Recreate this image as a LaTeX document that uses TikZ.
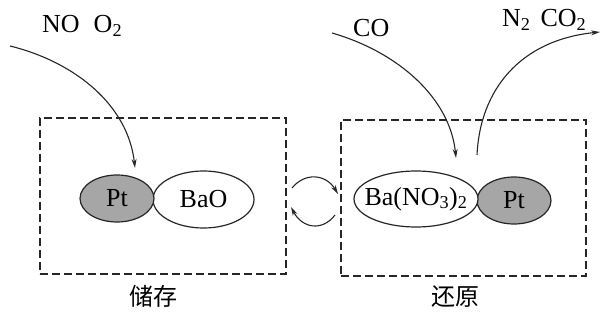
\documentclass[tikz,border=0pt]{standalone}
\usepackage{fontspec}
\setmainfont{Liberation Serif}
\newfontfamily\cjk{Noto Sans CJK SC}
\usetikzlibrary{arrows.meta,shapes.geometric}
\begin{document}
\begin{tikzpicture}[x=1pt,y=-1pt,
  txt/.style={font=\fontsize{26}{28}\selectfont, inner sep=0pt},
  cjklabel/.style={font=\cjk\fontsize{24}{26}\selectfont, inner sep=0pt},
  boxline/.style={draw=black!85, line width=1.3pt, dash pattern=on 8pt off 4pt},
  ptell/.style={draw=black!85, line width=1.2pt, fill=black!35},
  baell/.style={draw=black!85, line width=1.2pt, fill=white},
  flow/.style={draw=black!85, line width=1.1pt, -{Stealth[length=9pt,width=5pt]}}]
\useasboundingbox (0,0) rectangle (601,312);
% boxes
\node[boxline, minimum width=246pt, minimum height=156pt, inner sep=0pt] (storebox) at (163,196) {};
\node[boxline, minimum width=245pt, minimum height=156pt, inner sep=0pt] (redbox) at (463.5,198) {};
% left ellipses
\node[baell, ellipse, minimum width=101pt, minimum height=57pt, inner sep=0pt] (bao) at (203.5,199.5) {};
\node[ptell, ellipse, minimum width=74pt, minimum height=47pt, inner sep=0pt] (ptl) at (117,198.5) {};
\node[txt] at (ptl) {Pt};
\node[txt] at (bao) {BaO};
% right ellipses
\node[ptell, ellipse, minimum width=74pt, minimum height=47pt, inner sep=0pt] (ptr) at (514,200.5) {};
\node[baell, ellipse, minimum width=124pt, minimum height=56pt, inner sep=0pt] (bano) at (416,199) {};
\node[txt] at (ptr) {Pt};
\node[txt] at (bano) {Ba(NO\textsubscript{3})\textsubscript{2}};
% labels
\node[cjklabel] (lstore) at (153,296) {储存};
\node[cjklabel] (lred) at (455,297) {还原};
\node[txt, anchor=base west] (in1) at (42,33) {NO\hspace{14pt}O\textsubscript{2}};
\node[txt, anchor=base west] (in2) at (353,37) {CO};
\node[txt, anchor=base west] (out1) at (502,27) {N\textsubscript{2}\hspace{10pt}CO\textsubscript{2}};
% arrow end points
\coordinate (a1s) at (10,46);
\coordinate (a1e) at (135,168);
\coordinate (a2s) at (332,33);
\coordinate (a2e) at (456,158);
\coordinate (a3s) at (477,155);
\coordinate (a3e) at (600,32);
\coordinate (m1s) at (292,188);
\coordinate (m1e) at (338,194);
\coordinate (m2s) at (335,215);
\coordinate (m2e) at (291,207);
\draw[flow] (a1s) .. controls (75,62) and (128,105) .. (a1e);
\draw[flow] (a2s) .. controls (398,52) and (450,98) .. (a2e);
\draw[flow] (a3s) .. controls (480,90) and (520,40) .. (a3e);
\draw[flow] (m1s) .. controls (305,172) and (326,174) .. (m1e);
\draw[flow] (m2s) .. controls (322,232) and (302,228) .. (m2e);
\end{tikzpicture}
\end{document}
